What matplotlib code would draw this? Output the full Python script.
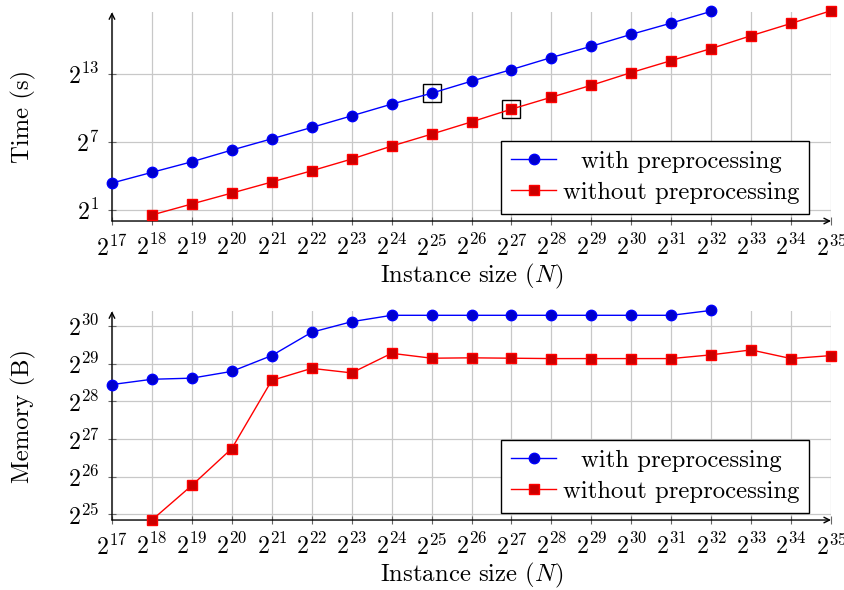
import matplotlib
matplotlib.use('Agg')
import matplotlib.pyplot as plt
import numpy as np

plt.rcParams['font.family'] = 'cmr10'
plt.rcParams['mathtext.fontset'] = 'cm'
plt.rcParams['axes.unicode_minus'] = False
plt.rcParams['axes.formatter.use_mathtext'] = True

# instance sizes, as powers of two
n_with = list(range(17, 33))
n_without = list(range(18, 36))

# log2 of time in seconds
time_with = [3.37, 4.31, 5.24, 6.27, 7.26, 8.26, 9.28, 10.31,
             11.27, 12.33, 13.35, 14.41, 15.40, 16.45, 17.44, 18.47]
time_without = [0.56, 1.53, 2.49, 3.46, 4.45, 5.48, 6.62, 7.67, 8.75,
                9.87, 10.92, 11.97, 13.09, 14.14, 15.20, 16.33, 17.41, 18.53]

# log2 of memory in bytes
mem_with = [28.45, 28.59, 28.62, 28.80, 29.22, 29.84, 30.12, 30.29,
            30.29, 30.29, 30.29, 30.29, 30.29, 30.29, 30.29, 30.42]
mem_without = [24.85, 25.77, 26.75, 28.56, 28.88, 28.76, 29.28, 29.15, 29.16,
               29.15, 29.14, 29.14, 29.14, 29.14, 29.24, 29.37, 29.14, 29.22]

# points boxed in the time plot
mark_with = 25
mark_without = 27

label_with = 'with preprocessing'
label_without = 'without preprocessing'

FS = 17.8
TFS = 17.2

fig = plt.figure(figsize=(8.45, 5.9), dpi=100)
ax1 = fig.add_axes([0.1325, 0.6254, 0.851, 0.354])
ax2 = fig.add_axes([0.1325, 0.1186, 0.851, 0.354])


def pw(v):
    return 2.0 ** np.asarray(v, dtype=float)


def setup(ax, yticks, ylim, ylabel):
    ax.set_xscale('log', base=2)
    ax.set_yscale('log', base=2)
    ax.set_xlim(pw(17), pw(35))
    ax.set_ylim(pw(ylim[0]), pw(ylim[1]))
    xt = list(range(17, 36))
    ax.set_xticks(pw(xt))
    ax.set_xticklabels([f'$2^{{{k}}}$' for k in xt], fontsize=TFS)
    ax.set_yticks(pw(yticks))
    ax.set_yticklabels([f'$2^{{{k}}}$' for k in yticks], fontsize=TFS)
    ax.minorticks_off()
    ax.grid(True, color='#c8c8c8', lw=0.9)
    ax.set_axisbelow(True)
    ax.tick_params(direction='inout', length=6, width=0.8, color='#666666')
    ax.tick_params(axis='x', pad=7)
    ax.tick_params(axis='y', pad=6)
    for s in ['top', 'right', 'left', 'bottom']:
        ax.spines[s].set_visible(False)
    arrow = dict(arrowstyle='->', lw=1.0, color='black', shrinkA=0, shrinkB=0)
    ax.annotate('', xy=(1, 0), xytext=(0, 0), xycoords='axes fraction',
                arrowprops=arrow, annotation_clip=False)
    ax.annotate('', xy=(0, 1), xytext=(0, 0), xycoords='axes fraction',
                arrowprops=arrow, annotation_clip=False)
    ax.set_xlabel('Instance size ($N$)', fontsize=FS)
    ax.set_ylabel(ylabel, fontsize=FS)
    ax.xaxis.set_label_coords(0.5, -0.195)
    ax.yaxis.set_label_coords(-0.106, 0.5)


def series(ax, ys_with, ys_without):
    ax.plot(pw(n_with), pw(ys_with), '-o', color='#0000ff', mfc='#0000cc', mec='#0000ff',
            ms=7.5, lw=1.0, label=label_with, clip_on=False, zorder=3)
    ax.plot(pw(n_without), pw(ys_without), '-s', color='#ff0000', mfc='#cc0000', mec='#ff0000',
            ms=7.3, lw=1.0, label=label_without, clip_on=False, zorder=3)
    leg = ax.legend(loc='lower right', bbox_to_anchor=(0.97, 0.034), borderaxespad=0,
                    fontsize=FS, fancybox=False, framealpha=1, edgecolor='black',
                    handlelength=1.8, handletextpad=0.3, borderpad=0.4, labelspacing=0.35)
    leg.get_frame().set_linewidth(1.0)
    return leg


setup(ax1, [1, 7, 13], (0.03, 18.4), 'Time (s)')
leg1 = series(ax1, time_with, time_without)

# boxed points
i = n_with.index(mark_with)
j = n_without.index(mark_without)
ax1.plot(pw([mark_with, mark_without]), pw([time_with[i], time_without[j]]), 's',
         ms=13, mfc='none', mec='black', mew=1.0, zorder=2)

setup(ax2, [25, 26, 27, 28, 29, 30], (24.85, 30.4), 'Memory (B)')
leg2 = series(ax2, mem_with, mem_without)

# centre the shorter legend label like the original
fig.canvas.draw()
r = fig.canvas.get_renderer()
for leg in (leg1, leg2):
    t_with, t_without = leg.get_texts()
    dx = (t_without.get_window_extent(r).width - t_with.get_window_extent(r).width) / 2
    t_with.set_x(dx)

fig.savefig('out.png', dpi=100)
